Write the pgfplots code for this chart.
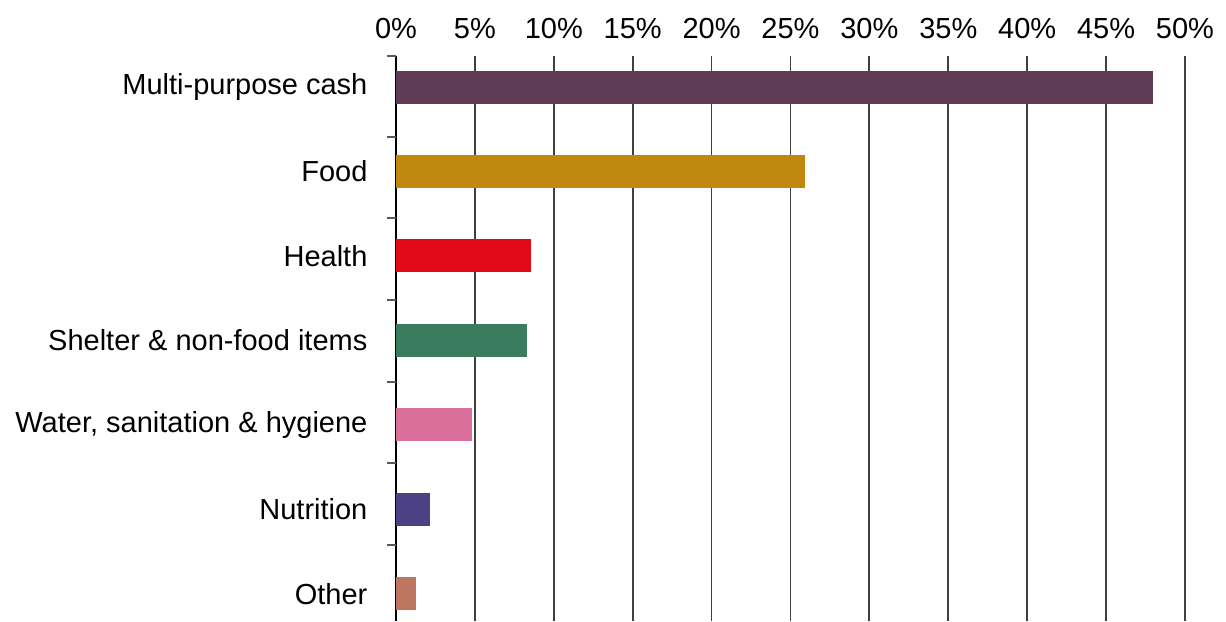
\documentclass[border=0pt]{standalone}
\usepackage{pgfplots}
\pgfplotsset{compat=1.18}
\usepackage{fontspec}
\setmainfont{Liberation Sans}
\definecolor{cCash}{HTML}{5E3B56}
\definecolor{cFood}{HTML}{C0880F}
\definecolor{cHealth}{HTML}{E20A16}
\definecolor{cShelter}{HTML}{3A7D5E}
\definecolor{cWash}{HTML}{DB6F9B}
\definecolor{cNut}{HTML}{4B4184}
\definecolor{cOther}{HTML}{BD7662}
\begin{document}
\begin{tikzpicture}[x=1pt,y=1pt]
\begin{axis}[
  name=ax,
  at={(0,0)}, anchor=south west,
  scale only axis,
  width=394.5pt, height=282.5pt,
  xmin=0, xmax=50,
  ymin=-0.32, ymax=6.367,
  axis x line*=top,
  axis y line*=left,
  x axis line style={draw=none},
  y axis line style={black, line width=0.9pt},
  xtick={0,5,...,50},
  xticklabel={\pgfmathprintnumber{\tick}\%},
  xticklabel style={font=\fontsize{14.5pt}{16pt}\selectfont, yshift=5pt},
  xmajorgrids,
  major x grid style={black!75, line width=0.9pt},
  major x tick style={draw=none},
  ytick={0,1,2,3,4,5,6},
  yticklabels={Other,Nutrition,{Water, sanitation \& hygiene},{Shelter \& non-food items},Health,Food,Multi-purpose cash},
  yticklabel style={font=\fontsize{14.5pt}{16pt}\selectfont, xshift=-6.5pt},
  ytick style={draw=none},
  extra y ticks={0.58,1.55,2.51,3.48,4.45,5.408,6.367},
  extra y tick labels={},
  extra y tick style={ytick style={draw=black!65, line width=1.1pt}, major tick length=4.5pt, tick align=outside, grid=none},
  clip=false,
  /pgf/number format/assume math mode=true,
  xbar, bar width=16.5pt, bar shift=0pt,
]
\addplot[fill=cCash, draw=none] coordinates {(48.0,6)};
\addplot[fill=cFood, draw=none] coordinates {(25.9,5)};
\addplot[fill=cHealth, draw=none] coordinates {(8.55,4)};
\addplot[fill=cShelter, draw=none] coordinates {(8.3,3)};
\addplot[fill=cWash, draw=none] coordinates {(4.8,2)};
\addplot[fill=cNut, draw=none] coordinates {(2.15,1)};
\addplot[fill=cOther, draw=none] coordinates {(1.27,0)};
\end{axis}
\path (ax.south west) ++(-198pt,0) rectangle ++(613pt,310.5pt);
\end{tikzpicture}
\end{document}
